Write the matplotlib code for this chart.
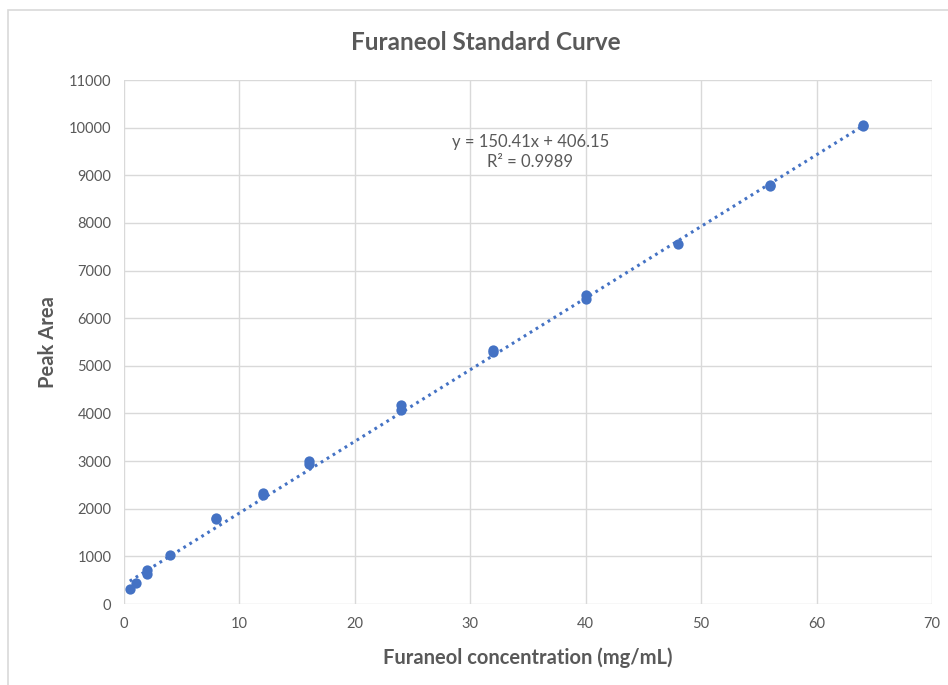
import matplotlib.pyplot as plt
from matplotlib.patches import Rectangle

# calibration standards: concentration (mg/mL) vs measured peak area
conc = [0.5, 1, 2, 2, 4, 8, 8, 12, 12, 16, 16, 24, 24, 32, 32, 40, 40, 48, 56, 56, 64, 64]
area = [310, 450, 720, 640, 1020, 1800, 1780, 2330, 2280, 3000, 2940, 4180, 4070,
        5330, 5290, 6490, 6410, 7550, 8800, 8780, 10030, 10050]

slope, intercept, r2 = 150.41, 406.15, 0.9989

plt.rcParams['font.family'] = ['Lato', 'DejaVu Sans']
grey = '#595959'
blue = '#4472C4'

fig = plt.figure(figsize=(9.48, 6.85), dpi=100)
ax = fig.add_axes([0.1308, 0.1182, 0.8523, 0.765])

# chart area frame
fig.patches.append(Rectangle((8 / 948, -0.1), 1.1, 1.1 - 10 / 685,
                             transform=fig.transFigure, fill=False,
                             edgecolor='#D9D9D9', lw=1.2))

ax.scatter(conc, area, s=55, color=blue, zorder=3, linewidths=0)

xs = [min(conc), max(conc)]
ax.plot(xs, [slope * x + intercept for x in xs], color=blue, lw=2.2,
        linestyle=(0, (0.9, 1.4)), zorder=2)

ax.set_xlim(0, 70)
ax.set_ylim(0, 11000)
ax.set_xticks(range(0, 71, 10))
ax.set_yticks(range(0, 11001, 1000))
ax.grid(True, color='#D9D9D9', lw=1)
ax.set_axisbelow(True)
for s in ax.spines.values():
    s.set_visible(False)
ax.tick_params(length=0, colors=grey, labelsize=10.5, pad=9)

ax.set_xlabel('Furaneol concentration (mg/mL)', fontsize=14.5, fontweight='bold',
              color=grey, labelpad=12)
ax.set_ylabel('Peak Area', fontsize=14.5, fontweight='bold', color=grey, labelpad=8)
fig.text(0.512, 0.938, 'Furaneol Standard Curve', ha='center', va='center',
         fontsize=17.5, fontweight='bold', color=grey)

ax.text(35.2, 9490, f'y = {slope}x + {intercept}\nR² = {r2}', ha='center',
        va='center', fontsize=12, color=grey, linespacing=1.35)

fig.savefig('out.png', dpi=100, facecolor='white')
